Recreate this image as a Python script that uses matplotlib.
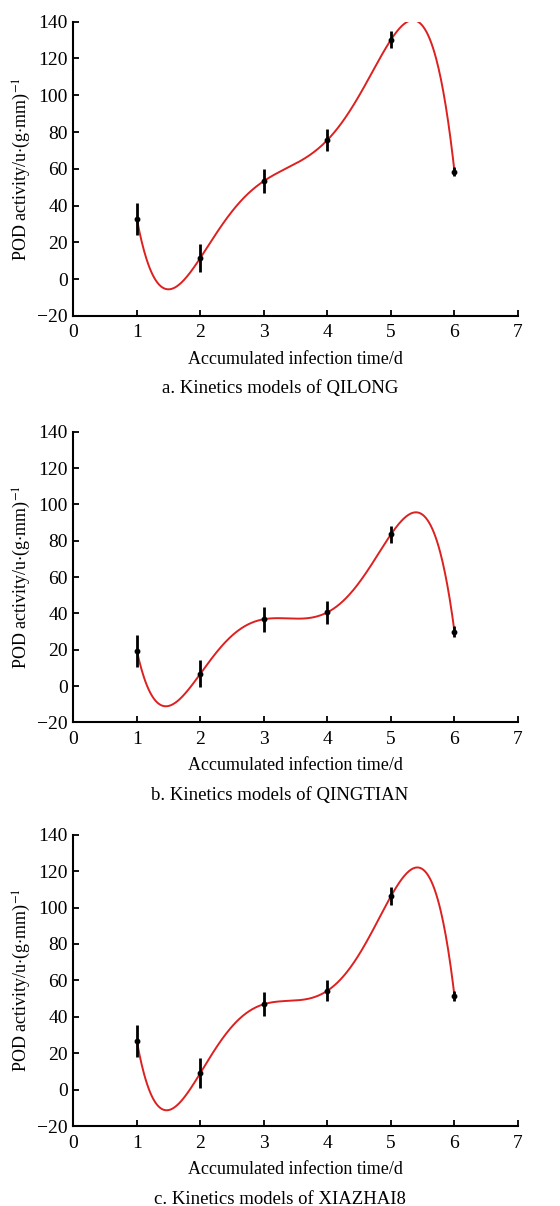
import matplotlib
matplotlib.use("Agg")
import matplotlib.pyplot as plt
import numpy as np

plt.rcParams["font.family"] = ["Liberation Serif", "DejaVu Serif"]
plt.rcParams["mathtext.fontset"] = "stix"

DAYS = [1, 2, 3, 4, 5, 6]

QILONG_MEAN = [32.7, 11.6, 53.4, 75.7, 130.2, 58.5]
QILONG_ERR = [8.6, 7.7, 6.6, 6.0, 4.5, 2.5]

QINGTIAN_MEAN = [19.3, 6.8, 36.8, 40.6, 83.5, 30.0]
QINGTIAN_ERR = [9.0, 7.5, 6.8, 6.2, 4.6, 3.0]

XIAZHAI_MEAN = [26.6, 9.3, 47.0, 54.4, 106.2, 51.5]
XIAZHAI_ERR = [8.8, 8.0, 6.5, 5.8, 4.8, 2.7]

CAPTIONS = [
    "a. Kinetics models of QILONG",
    "b. Kinetics models of QINGTIAN",
    "c. Kinetics models of XIAZHAI8",
]

X_TICKS = [0, 1, 2, 3, 4, 5, 6, 7]
Y_TICKS = [-20, 0, 20, 40, 60, 80, 100, 120, 140]

# axes boxes in figure fractions (left, bottom, width, height)
BOXES = [
    (0.131, 0.738, 0.794, 0.244),
    (0.131, 0.401, 0.794, 0.241),
    (0.131, 0.066, 0.794, 0.242),
]

fig = plt.figure(figsize=(5.6, 12.06), dpi=100)

series = [
    (QILONG_MEAN, QILONG_ERR),
    (QINGTIAN_MEAN, QINGTIAN_ERR),
    (XIAZHAI_MEAN, XIAZHAI_ERR),
]

for (mean, err), box, caption in zip(series, BOXES, CAPTIONS):
    ax = fig.add_axes(box)
    x = np.array(DAYS, dtype=float)
    y = np.array(mean)
    coeffs = np.polyfit(x, y, 5)
    xs = np.linspace(x.min(), x.max(), 400)
    ax.plot(xs, np.polyval(coeffs, xs), color="#dd2020", linewidth=1.4, zorder=2)
    ax.errorbar(x, y, yerr=err, fmt="o", color="black", markersize=3.2,
                elinewidth=2.0, capsize=0, zorder=3)

    ax.set_xlim(0, 7)
    ax.set_ylim(-20, 140)
    ax.set_xticks(X_TICKS)
    ax.set_yticks(Y_TICKS)
    ax.set_yticklabels(["\u221220"] + [str(v) for v in Y_TICKS[1:]])
    ax.tick_params(direction="in", length=4.5, width=1.3, labelsize=14, pad=4)
    ax.tick_params(axis="x", pad=6)
    for side in ("top", "right"):
        ax.spines[side].set_visible(False)
    for side in ("left", "bottom"):
        ax.spines[side].set_linewidth(1.5)

    ax.set_xlabel("Accumulated infection time/d", fontsize=13, labelpad=7)
    ax.set_ylabel(r"POD activity/u$\cdot$(g$\cdot$mm)$^{-1}$", fontsize=13, labelpad=3)

    pos = ax.get_position()
    fig.text(0.5, pos.y0 - 73 / 1206, caption, ha="center", va="center", fontsize=13.5)

fig.savefig("out.png", dpi=100)
